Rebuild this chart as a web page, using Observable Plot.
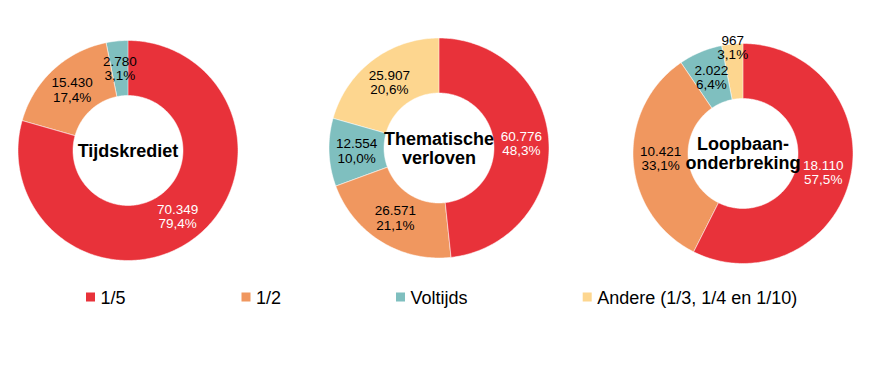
<!DOCTYPE html>
<html><head><meta charset="utf-8">
<script src="https://cdn.jsdelivr.net/npm/d3@7"></script>
<script src="https://cdn.jsdelivr.net/npm/@observablehq/plot@0.6"></script>
<style>body{margin:0;background:#fff}</style>
</head><body><div id="chart"></div>
<script>
// ---- data ----
const categories = ["1/5", "1/2", "Voltijds", "Andere (1/3, 1/4 en 1/10)"];
const colors = ["#E8323A", "#F0975F", "#7FBFBF", "#FDD68F"];
const groups = ["Tijdskrediet", "Thematische\nverloven", "Loopbaan-\nonderbreking"];
const tijdskrediet = [70349, 15430, 2780, 0];
const thematischeVerloven = [60776, 26571, 12554, 25907];
const loopbaanonderbreking = [18110, 10421, 2022, 967];
const seriesValues = [tijdskrediet, thematischeVerloven, loopbaanonderbreking];

// ---- layout ----
const W = 886, H = 388;
const centers = [[127.5, 150], [438.5, 147.5], [742.5, 153]];
const R = 110, R0 = 55, RMID = 82.5;
const legendX = [86, 241.5, 396, 582.7];
const FONT = "'Liberation Sans', Arial, sans-serif";

const loc = d3.formatLocale({decimal: ",", thousands: ".", grouping: [3], currency: ["€", ""]});
const fmtN = loc.format(",d");
const fmtP = loc.format(".1f");

const slicePts = [];
const labels = [];
const titles = [];
seriesValues.forEach((vals, g) => {
  const [cx, cy] = centers[g];
  const total = d3.sum(vals);
  titles.push({x: cx, y: cy, text: groups[g]});
  let acc = 0;
  const glabels = [];
  vals.forEach((v, i) => {
    if (!v) return;
    const a0 = acc / total * 2 * Math.PI;
    acc += v;
    const a1 = acc / total * 2 * Math.PI;
    const id = g + "-" + i;
    const steps = Math.max(2, Math.ceil((a1 - a0) / (Math.PI / 180)));
    for (let k = 0; k <= steps; k++) {
      const a = a0 + (a1 - a0) * k / steps;
      slicePts.push({id, cat: categories[i], x: cx + R * Math.sin(a), y: cy - R * Math.cos(a)});
    }
    for (let k = steps; k >= 0; k--) {
      const a = a0 + (a1 - a0) * k / steps;
      slicePts.push({id, cat: categories[i], x: cx + R0 * Math.sin(a), y: cy - R0 * Math.cos(a)});
    }
    const am = (a0 + a1) / 2;
    const text = fmtN(v) + "\n" + fmtP(v / total * 100) + "%";
    const chars = Math.max(...text.split("\n").map(s => s.length));
    glabels.push({v, am, cx, cy, rad: RMID, w: chars * 7.4, h: 29, text, white: i === 0});
  });
  // push smaller labels outward when they collide with larger ones
  const pos = l => [l.cx + l.rad * Math.sin(l.am), l.cy - l.rad * Math.cos(l.am)];
  const sorted = glabels.slice().sort((a, b) => b.v - a.v);
  sorted.forEach((l, idx) => {
    for (let guard = 0; guard < 40; guard++) {
      const [x, y] = pos(l);
      const hit = sorted.slice(0, idx).some(o => {
        const [ox, oy] = pos(o);
        return Math.abs(ox - x) < (o.w + l.w) / 2 && Math.abs(oy - y) < (o.h + l.h) / 2;
      });
      if (!hit) break;
      l.rad += 1;
    }
  });
  glabels.forEach(l => { const [x, y] = pos(l); labels.push({x, y, text: l.text, white: l.white}); });
});

const legend = categories.map((c, i) => ({cat: c, x: legendX[i]}));

const chart = Plot.plot({
  width: W, height: H, margin: 0,
  x: {domain: [0, W], range: [0, W], axis: null},
  y: {domain: [0, H], range: [0, H], axis: null},
  color: {domain: categories, range: colors},
  style: {fontFamily: FONT, background: "white"},
  marks: [
    Plot.line(slicePts, {x: "x", y: "y", z: "id", fill: "cat", stroke: "white", strokeWidth: 0.5, curve: "linear-closed"}),
    Plot.text(labels.filter(d => d.white), {x: "x", y: "y", text: "text", fill: "white", fontSize: 13.5, lineHeight: 1.06, fontFamily: FONT}),
    Plot.text(labels.filter(d => !d.white), {x: "x", y: "y", text: "text", fill: "black", fontSize: 13.5, lineHeight: 1.06, fontFamily: FONT}),
    Plot.text(titles, {x: "x", y: "y", text: "text", fill: "black", fontSize: 18, fontWeight: "bold", lineHeight: 1.06, fontFamily: FONT}),
    Plot.rect(legend, {x1: d => d.x, x2: d => d.x + 9, y1: d => 292.5, y2: d => 301.5, fill: "cat"}),
    Plot.text(legend, {x: d => d.x + 14, y: d => 297.5, text: "cat", textAnchor: "start", fill: "black", fontSize: 18, fontFamily: FONT})
  ]
});
document.getElementById("chart").appendChild(chart);
</script>
</body></html>
